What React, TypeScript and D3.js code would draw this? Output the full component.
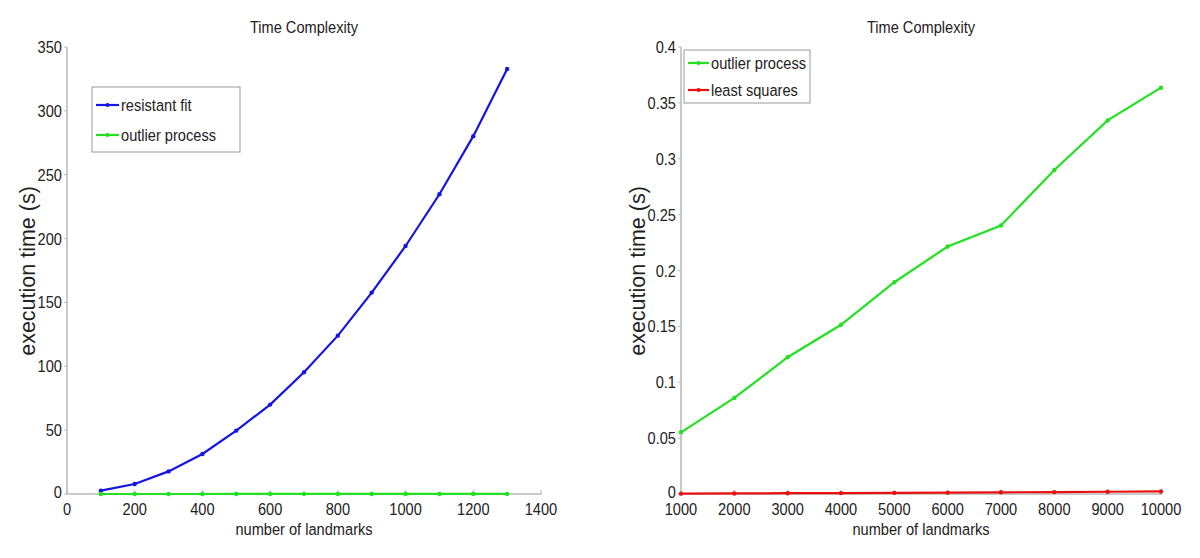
import React from "react";
import * as d3 from "d3";

// Left panel data
const leftLandmarks = [100, 200, 300, 400, 500, 600, 700, 800, 900, 1000, 1100, 1200, 1300];
const resistantFit = [2.6, 7.8, 17.7, 31.3, 49.6, 70, 95.3, 124, 157.7, 194.2, 234.7, 280.2, 332.8];
const outlierLeft = [0.005, 0.009, 0.014, 0.018, 0.023, 0.027, 0.031, 0.036, 0.041, 0.045, 0.05, 0.054, 0.059];
const leftXTicks = [0, 200, 400, 600, 800, 1000, 1200, 1400];
const leftYTicks = [0, 50, 100, 150, 200, 250, 300, 350];

// Right panel data
const rightLandmarks = [1000, 2000, 3000, 4000, 5000, 6000, 7000, 8000, 9000, 10000];
const outlierRight = [0.0552, 0.086, 0.1224, 0.1514, 0.1895, 0.2215, 0.2403, 0.29, 0.3343, 0.3636];
const leastSquares = [0.0003, 0.0005, 0.0007, 0.0008, 0.001, 0.0012, 0.0015, 0.0017, 0.002, 0.0023];
const rightXTicks = [1000, 2000, 3000, 4000, 5000, 6000, 7000, 8000, 9000, 10000];
const rightYTicks = [0, 0.05, 0.1, 0.15, 0.2, 0.25, 0.3, 0.35, 0.4];

const BLUE = "#1414e6";
const GREEN = "#22e022";
const RED = "#e81010";
const TEXT = "#222";
const AXIS = "#b8b8b8";
const FONT = "'Liberation Sans', Arial, sans-serif";
const SX = 0.86;

type Series = { name: string; color: string; xs: number[]; ys: number[] };

function T({ x, y, children, anchor = "middle", size = 17 }: any) {
  return (
    <text
      transform={`translate(${x},${y}) scale(${SX},1)`}
      textAnchor={anchor}
      fontFamily={FONT}
      fontSize={size}
      fill={TEXT}
    >
      {children}
    </text>
  );
}

function Panel({
  x0, x1, y0, y1, xDomain, yDomain, xTicks, yTicks, series, fmtY,
  legend, ylabelX,
}: any) {
  const xs = d3.scaleLinear().domain(xDomain).range([x0, x1]);
  const ys = d3.scaleLinear().domain(yDomain).range([y0, y1]);
  const line = d3.line<[number, number]>().x((d) => xs(d[0])).y((d) => ys(d[1]));
  const cx = (x0 + x1) / 2;
  return (
    <g>
      <T x={cx} y={33}>Time Complexity</T>
      {/* axes */}
      <line x1={x0} x2={x0} y1={y0} y2={y1} stroke={AXIS} strokeWidth={1.5} />
      <line x1={x0} x2={x1 + 1} y1={y0} y2={y0} stroke={AXIS} strokeWidth={1.5} />
      {yTicks.map((t: number) => (
        <g key={"y" + t}>
          <line x1={x0 - 3} x2={x0} y1={ys(t)} y2={ys(t)} stroke={AXIS} />
          <T x={x0 - 5} y={ys(t) + (t === 0 ? 4 : 6)} anchor="end">{fmtY(t)}</T>
        </g>
      ))}
      {xTicks.map((t: number) => (
        <g key={"x" + t}>
          <line x1={xs(t)} x2={xs(t)} y1={y0} y2={y0 - 4} stroke={AXIS} />
          <T x={xs(t)} y={515}>{String(t)}</T>
        </g>
      ))}
      <T x={cx} y={535}>number of landmarks</T>
      <text
        transform={`translate(${ylabelX},${271}) rotate(-90)`}
        textAnchor="middle"
        fontFamily={FONT}
        fontSize={21.5}
        fill={TEXT}
      >
        execution time (s)
      </text>
      {series.map((s: Series) => {
        const pts: [number, number][] = s.xs.map((v, i) => [v, s.ys[i]]);
        return (
          <g key={s.name}>
            <path d={line(pts) || ""} fill="none" stroke={s.color} strokeWidth={2.2} />
            {pts.map((p, i) => (
              <circle key={i} cx={xs(p[0])} cy={ys(p[1])} r={2.2} fill={s.color} />
            ))}
          </g>
        );
      })}
      {/* legend */}
      <rect
        x={legend.x}
        y={legend.y}
        width={legend.w}
        height={legend.h}
        fill="#fff"
        stroke="#999"
        strokeWidth={1}
      />
      {series.map((s: Series, i: number) => {
        const ly = legend.y + legend.first + i * legend.step;
        return (
          <g key={"l" + s.name}>
            <line x1={legend.x + 4} x2={legend.x + legend.lineLen} y1={ly} y2={ly} stroke={s.color} strokeWidth={2.2} />
            <circle cx={legend.x + 4 + (legend.lineLen - 4) / 2} cy={ly} r={2} fill={s.color} />
            <T x={legend.x + legend.lineLen + 2} y={ly + 6} anchor="start">{s.name}</T>
          </g>
        );
      })}
    </g>
  );
}

export default function App() {
  const fmtRight = (v: number) => String(+v.toFixed(2));
  return (
    <svg
      width={1200}
      height={558}
      style={{ position: "absolute", left: 0, top: 0, background: "#fff" }}
    >
      <rect width={1200} height={558} fill="#fff" />
      <Panel
        x0={67}
        x1={541}
        y0={494}
        y1={47}
        xDomain={[0, 1400]}
        yDomain={[0, 350]}
        xTicks={leftXTicks}
        yTicks={leftYTicks}
        fmtY={(v: number) => String(v)}
        ylabelX={35}
        series={[
          { name: "resistant fit", color: BLUE, xs: leftLandmarks, ys: resistantFit },
          { name: "outlier process", color: GREEN, xs: leftLandmarks, ys: outlierLeft },
        ]}
        legend={{ x: 92, y: 87, w: 148, h: 65, first: 18, step: 30, lineLen: 27 }}
      />
      <Panel
        x0={681}
        x1={1161}
        y0={494}
        y1={47}
        xDomain={[1000, 10000]}
        yDomain={[0, 0.4]}
        xTicks={rightXTicks}
        yTicks={rightYTicks}
        fmtY={fmtRight}
        ylabelX={645}
        series={[
          { name: "outlier process", color: GREEN, xs: rightLandmarks, ys: outlierRight },
          { name: "least squares", color: RED, xs: rightLandmarks, ys: leastSquares },
        ]}
        legend={{ x: 684, y: 50, w: 126, h: 53, first: 13, step: 27, lineLen: 25 }}
      />
    </svg>
  );
}
